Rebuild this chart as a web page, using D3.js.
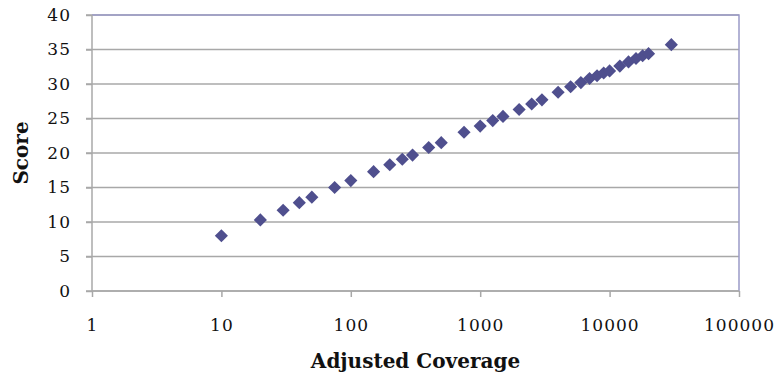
<!DOCTYPE html>
<html lang="en">
<head>
    <meta charset="UTF-8">
    <title>Score vs Adjusted Coverage</title>
    <script src="https://d3js.org/d3.v7.min.js"></script>
    <style>
        body { margin: 0; background: #fff; }
        .tick text {
            font-family: "DejaVu Serif", Georgia, serif;
            font-size: 17px;
            letter-spacing: 1px;
            fill: #111;
        }
        .title {
            font-family: "DejaVu Serif", Georgia, serif;
            font-weight: bold;
            font-size: 20px;
            fill: #111;
        }
    </style>
</head>
<body>
<svg width="777" height="377"></svg>
<script>
    // values
    const coverage = [10, 20, 30, 40, 50, 75, 100, 150, 200, 250, 300, 400, 500, 750,
        1000, 1250, 1500, 2000, 2500, 3000, 4000, 5000, 6000, 7000, 8000, 9000, 10000,
        12000, 14000, 16000, 18000, 20000, 30000];
    const score = [8.0, 10.3, 11.7, 12.8, 13.6, 15.0, 16.0, 17.3, 18.3, 19.1, 19.7, 20.8, 21.5, 23.0,
        23.9, 24.7, 25.3, 26.3, 27.1, 27.7, 28.8, 29.6, 30.2, 30.8, 31.2, 31.6, 31.9,
        32.6, 33.2, 33.7, 34.1, 34.4, 35.7];
    const xTicks = [1, 10, 100, 1000, 10000, 100000];
    const yTicks = [0, 5, 10, 15, 20, 25, 30, 35, 40];

    const svg = d3.select("svg");
    const margin = {left: 92, right: 38, top: 15, bottom: 86};
    const width = 777, height = 377;

    const x = d3.scaleLog()
        .domain([1, 100000])
        .range([margin.left, width - margin.right]);
    const y = d3.scaleLinear()
        .domain([0, 40])
        .range([height - margin.bottom, margin.top]);

    // gridlines
    svg.append("g")
        .selectAll("line")
        .data(yTicks)
        .enter().append("line")
        .attr("x1", x(1) - 6)
        .attr("x2", x(100000))
        .attr("y1", d => y(d))
        .attr("y2", d => y(d))
        .attr("stroke", "#a8a8a8")
        .attr("stroke-width", 1.5);

    // plot border, top and right
    svg.append("path")
        .attr("d", `M${x(1)},${y(40)}H${x(100000)}V${y(0)}`)
        .attr("fill", "none")
        .attr("stroke", "#9a9ac8")
        .attr("stroke-width", 1.5);

    // y axis
    const yAxis = svg.append("g")
        .attr("transform", `translate(${x(1)},0)`)
        .call(d3.axisLeft(y).tickValues(yTicks).tickSize(6).tickPadding(15));
    yAxis.selectAll("line, path").attr("stroke", "#a8a8a8").attr("stroke-width", 1.5);
    yAxis.select(".domain").attr("d", `M0,${y(0)}V${y(40)}`);

    // x axis
    const xAxis = svg.append("g")
        .attr("transform", `translate(0,${y(0)})`)
        .call(d3.axisBottom(x).tickValues(xTicks).tickFormat(d3.format("d")).tickSize(6).tickPadding(22));
    xAxis.selectAll("line, path").attr("stroke", "#a8a8a8").attr("stroke-width", 1.5);
    xAxis.select(".domain").attr("d", `M${x(1)},0H${x(100000)}`);

    // points
    const pts = coverage.map((c, i) => ({c: c, s: score[i]}));
    svg.append("g")
        .selectAll("path")
        .data(pts)
        .enter().append("path")
        .attr("d", d3.symbol(d3.symbolDiamond2, 110))
        .attr("transform", d => `translate(${x(d.c)},${y(d.s)})`)
        .attr("fill", "#4f4f8e");

    // axis titles
    svg.append("text")
        .attr("class", "title")
        .attr("x", (x(1) + x(100000)) / 2)
        .attr("y", 368)
        .attr("text-anchor", "middle")
        .text("Adjusted Coverage");

    svg.append("text")
        .attr("class", "title")
        .attr("transform", `translate(28,${(y(0) + y(40)) / 2}) rotate(-90)`)
        .attr("text-anchor", "middle")
        .text("Score");
</script>
</body>
</html>
